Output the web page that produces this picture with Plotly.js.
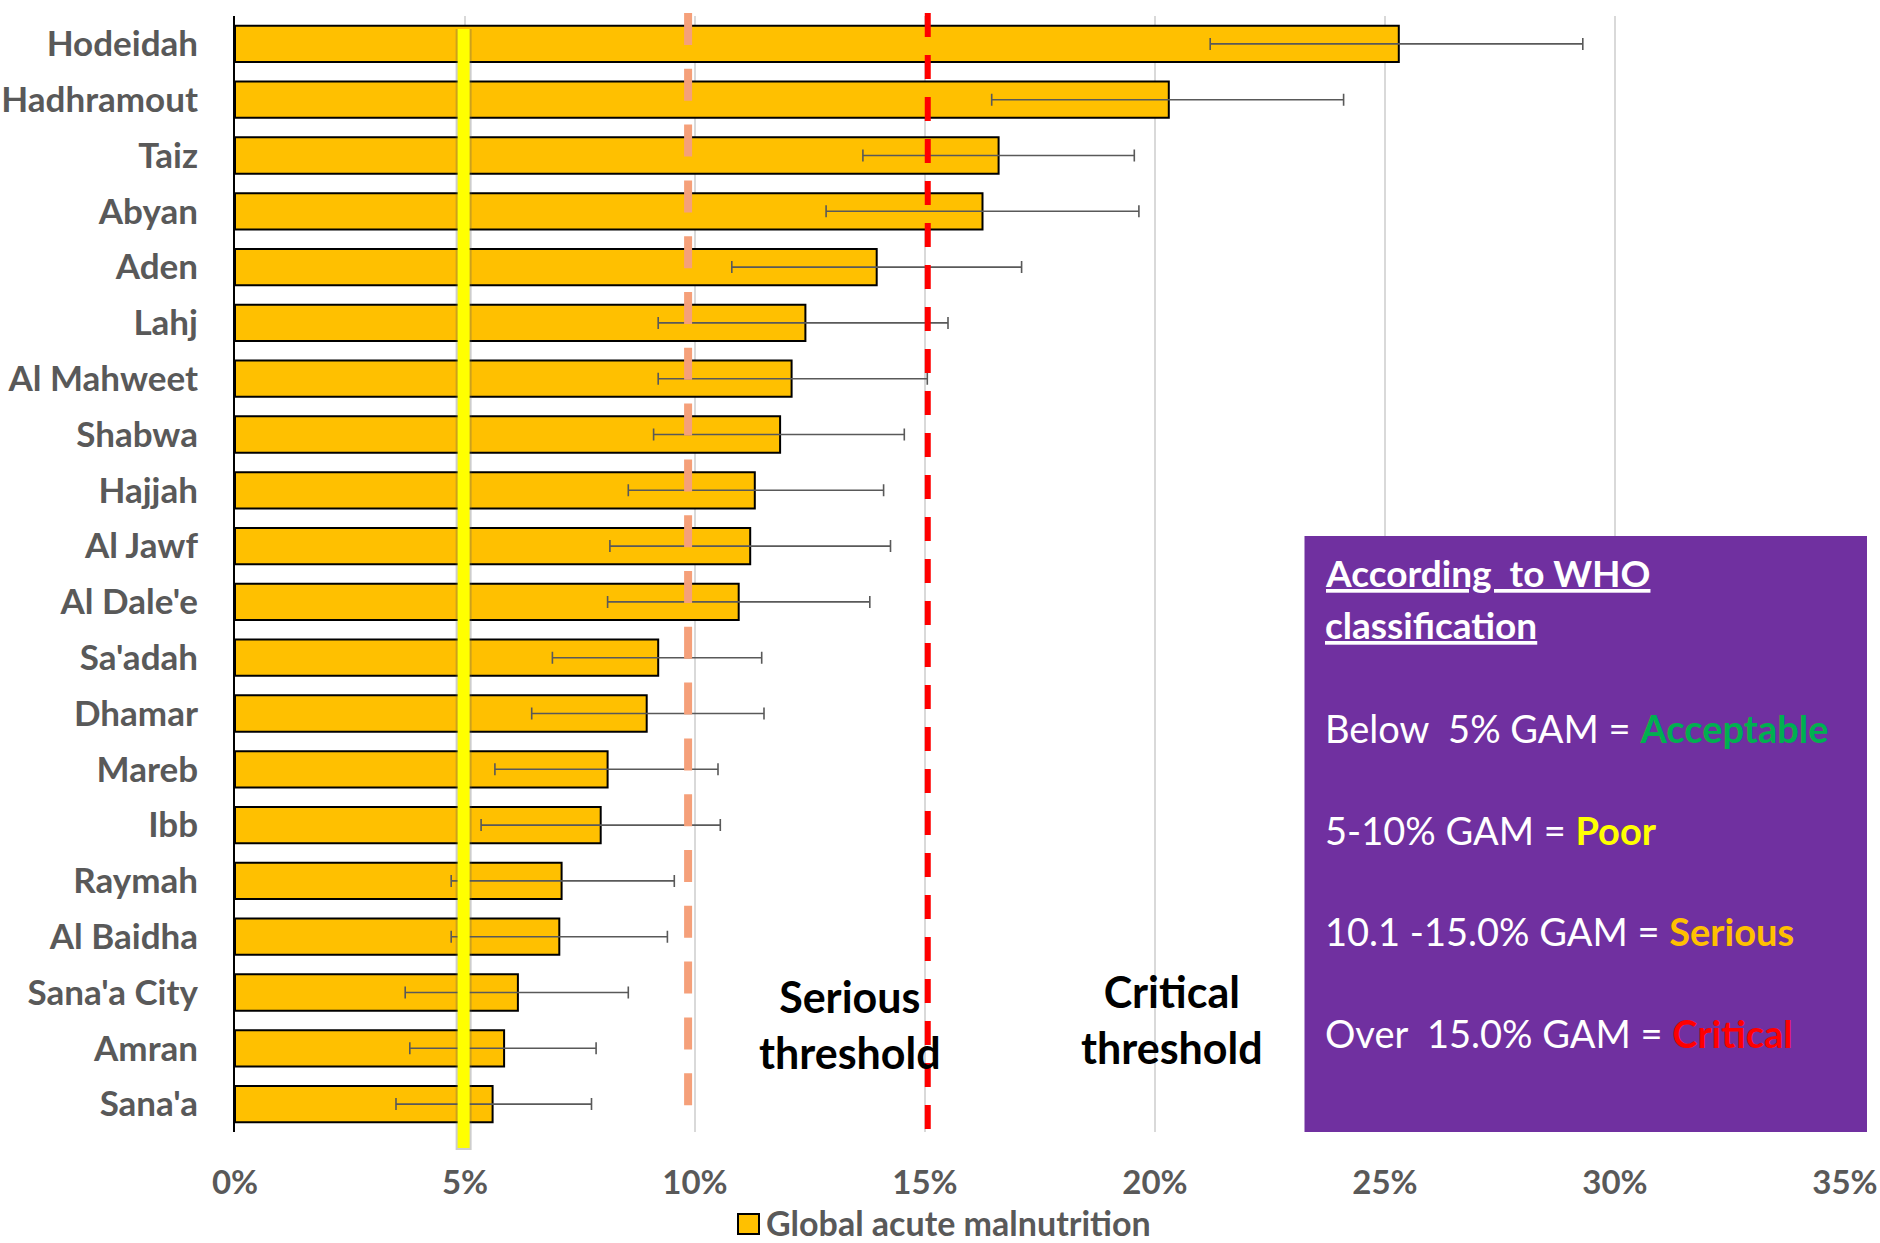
<!DOCTYPE html>
<html>
<head>
<meta charset="utf-8">
<script src="https://cdn.plot.ly/plotly-3.0.1.min.js"></script>
<style>
  html, body { margin: 0; padding: 0; background: #ffffff; }
  #chart { width: 1880px; height: 1243px; }
</style>
</head>
<body>
<div id="chart"></div>
<script>
// ---- data (percent) ----
const governorates = ["Hodeidah","Hadhramout","Taiz","Abyan","Aden","Lahj","Al Mahweet","Shabwa","Hajjah","Al Jawf","Al Dale'e","Sa'adah","Dhamar","Mareb","Ibb","Raymah","Al Baidha","Sana'a City","Amran","Sana'a"];
const gamValues = [25.3, 20.3, 16.6, 16.25, 13.95, 12.4, 12.1, 11.85, 11.3, 11.2, 10.95, 9.2, 8.95, 8.1, 7.95, 7.1, 7.05, 6.15, 5.85, 5.6];
const ciLower  = [21.2, 16.45, 13.65, 12.85, 10.8, 9.2, 9.2, 9.1, 8.55, 8.15, 8.1, 6.9, 6.45, 5.65, 5.35, 4.7, 4.7, 3.7, 3.8, 3.5];
const ciUpper  = [29.3, 24.1, 19.55, 19.65, 17.1, 15.5, 15.05, 14.55, 14.1, 14.25, 13.8, 11.45, 11.5, 10.5, 10.55, 9.55, 9.4, 8.55, 7.85, 7.75];
const seriesName = "Global acute malnutrition";
const xTickValues = [0, 5, 10, 15, 20, 25, 30, 35];
const acceptableLine = 4.97;
const seriousLine = 9.85;
const criticalLine = 15.06;
const thresholdLabels = ["Serious<br>threshold", "Critical<br>threshold"];
const whoTitle = ["According  to WHO", "classification"];
const whoRows = [
  ["Below  5% GAM = ", "Acceptable", "#00B050"],
  ["5-10% GAM = ", "Poor", "#FFFF00"],
  ["10.1 -15.0% GAM = ", "Serious", "#FFC000"],
  ["Over  15.0% GAM = ", "Critical", "#FF0000"]
];

// ---- geometry helpers (pixels -> paper) ----
const W = 1880, H = 1243;
const M = {l: 235, r: 35, t: 16, b: 111};
const plotW = W - M.l - M.r, plotH = H - M.t - M.b;
const px = x => (x - M.l) / plotW;
const py = y => (H - M.b - y) / plotH;

const FONT = "Lato, 'Open Sans', 'Liberation Sans', sans-serif";
const GREY = "#595959";

const trace = {
  type: "bar",
  orientation: "h",
  y: governorates,
  x: gamValues,
  name: seriesName,
  showlegend: false,
  marker: { color: "#FFC000", line: { color: "#000000", width: 2 } },
  error_x: {
    type: "data",
    symmetric: false,
    array: ciUpper.map((u, i) => u - gamValues[i]),
    arrayminus: ciLower.map((l, i) => gamValues[i] - l),
    color: GREY,
    thickness: 1.6,
    width: 6
  },
  hoverinfo: "y+x"
};

const shapes = [
  // yellow 5% line shadow + line
  { type: "line", xref: "x", yref: "paper", x0: acceptableLine, x1: acceptableLine,
    y0: py(29), y1: py(1150), line: { color: "rgba(90,90,90,0.30)", width: 16 } },
  { type: "line", xref: "x", yref: "paper", x0: acceptableLine, x1: acceptableLine,
    y0: py(29), y1: py(1148), line: { color: "#FFFF00", width: 12 } },
  // salmon 10% dashed line
  { type: "line", xref: "x", yref: "paper", x0: seriousLine, x1: seriousLine,
    y0: py(13), y1: py(1109), line: { color: "#F5A07A", width: 8, dash: "32px,23.8px" } },
  // red 15% dashed line
  { type: "line", xref: "x", yref: "paper", x0: criticalLine, x1: criticalLine,
    y0: py(13), y1: py(1129), line: { color: "#FF0000", width: 6, dash: "24px,18px" } },
  // purple WHO box
  { type: "rect", xref: "paper", yref: "paper", x0: px(1304.5), x1: px(1867), y0: py(1132), y1: py(536),
    fillcolor: "#7030A0", line: { width: 0 } },
  // legend swatch
  { type: "rect", xref: "paper", yref: "paper", x0: px(738), x1: px(759), y0: py(1234), y1: py(1214),
    fillcolor: "#FFC000", line: { color: "#000000", width: 2 } }
];

const annotations = [
  { xref: "paper", yref: "paper", x: px(850), y: py(1024), text: "<b>" + thresholdLabels[0] + "</b>",
    showarrow: false, xanchor: "center", yanchor: "middle", align: "center",
    font: { family: FONT, size: 43, color: "#000000" } },
  { xref: "paper", yref: "paper", x: px(1172), y: py(1019), text: "<b>" + thresholdLabels[1] + "</b>",
    showarrow: false, xanchor: "center", yanchor: "middle", align: "center",
    font: { family: FONT, size: 43, color: "#000000" } },
  { xref: "paper", yref: "paper", x: px(1323), y: py(572), text: "<b><u>" + whoTitle[0] + "</u></b>",
    showarrow: false, xanchor: "left", yanchor: "middle", align: "left",
    font: { family: FONT, size: 37, color: "#FFFFFF" } },
  { xref: "paper", yref: "paper", x: px(1323), y: py(624), text: "<b><u>" + whoTitle[1] + "</u></b>",
    showarrow: false, xanchor: "left", yanchor: "middle", align: "left",
    font: { family: FONT, size: 37, color: "#FFFFFF" } },
  { xref: "paper", yref: "paper", x: px(764), y: py(1222), text: "<b>" + seriesName + "</b>",
    showarrow: false, xanchor: "left", yanchor: "middle", align: "left",
    font: { family: FONT, size: 34, color: GREY } }
];
const rowY = [728, 830, 931, 1033];
whoRows.forEach((r, i) => {
  annotations.push({
    xref: "paper", yref: "paper", x: px(1323), y: py(rowY[i]),
    text: r[0] + "<span style=\"color:" + r[2] + "\"><b>" + r[1] + "</b></span>",
    showarrow: false, xanchor: "left", yanchor: "middle", align: "left",
    font: { family: FONT, size: 38, color: "#FFFFFF" }
  });
});

const layout = {
  width: W, height: H,
  margin: M,
  paper_bgcolor: "#FFFFFF",
  plot_bgcolor: "#FFFFFF",
  bargap: 0.35,
  showlegend: false,
  font: { family: FONT },
  xaxis: {
    range: [0, 35],
    tickvals: xTickValues,
    ticktext: xTickValues.map(v => "<b>" + v + "%</b>"),
    showgrid: true, gridcolor: "#D9D9D9", gridwidth: 1.5,
    zeroline: false, showline: false, ticks: "",
    ticklabelstandoff: 28,
    tickfont: { family: FONT, size: 33, color: GREY },
    fixedrange: true
  },
  yaxis: {
    type: "category",
    categoryorder: "array",
    categoryarray: governorates,
    autorange: "reversed",
    showgrid: false, zeroline: false,
    showline: true, linecolor: "#000000", linewidth: 2,
    ticks: "",
    ticklabelstandoff: 28,
    tickfont: { family: FONT, size: 35, color: GREY },
    tickvals: governorates,
    ticktext: governorates.map(g => "<b>" + g + "</b>"),
    fixedrange: true
  },
  shapes: shapes,
  annotations: annotations
};

Plotly.newPlot("chart", [trace], layout, { displayModeBar: false, staticPlot: true });
</script>
</body>
</html>
